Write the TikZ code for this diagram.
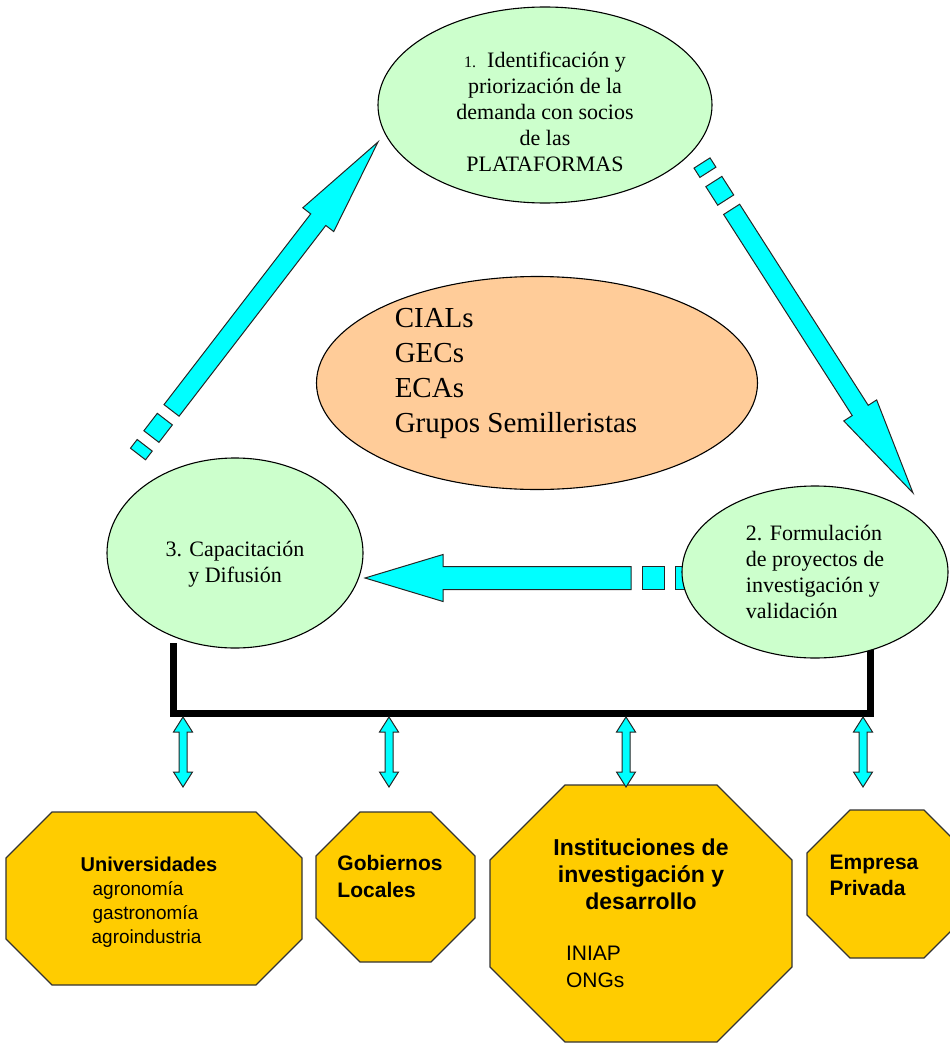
\documentclass[tikz,border=0pt]{standalone}
\usepackage{fontspec}
\setmainfont{Liberation Serif}
\newfontfamily\arialfont{Liberation Sans}
\usetikzlibrary{shapes.geometric,calc}

\definecolor{palegreen}{RGB}{204,255,204}
\definecolor{peach}{RGB}{255,204,153}
\definecolor{gold}{RGB}{255,204,0}
\definecolor{aqua}{RGB}{0,255,255}

\tikzset{
  phase/.style={ellipse, draw, line width=1.1pt, fill=palegreen, inner sep=0pt,
    font=\fontsize{22}{26}\selectfont},
  core/.style={ellipse, draw, line width=1.1pt, fill=peach, inner sep=0pt,
    font=\fontsize{29}{35}\selectfont, align=left},
  oct/.style={draw=black!80, line width=1.3pt, fill=gold, line join=miter},
  actor/.style={inner sep=0pt},
  blockarrow/.style={fill=aqua, draw=black!85, line width=1pt, line join=miter},
  bracket/.style={line width=7pt, line join=miter}
}

% striped block arrow: tail, tip, half shaft, half head, head length
\newcommand\stripedarrow[5]{%
  \draw[blockarrow] ($(#1)!#3!90:(#2)$) -- ($(#1)!#3!-90:(#2)$)
    -- ($(#1)!11pt!(#2)!#3!-90:(#2)$) -- ($(#1)!11pt!(#2)!#3!90:(#2)$) -- cycle;
  \draw[blockarrow] ($(#1)!22pt!(#2)!#3!90:(#2)$) -- ($(#1)!22pt!(#2)!#3!-90:(#2)$)
    -- ($(#1)!44pt!(#2)!#3!-90:(#2)$) -- ($(#1)!44pt!(#2)!#3!90:(#2)$) -- cycle;
  \draw[blockarrow] ($(#1)!55pt!(#2)!#3!90:(#2)$)
    -- ($(#2)!#5!(#1)!#3!-90:(#1)$) -- ($(#2)!#5!(#1)!#4!-90:(#1)$)
    -- (#2)
    -- ($(#2)!#5!(#1)!#4!90:(#1)$) -- ($(#2)!#5!(#1)!#3!90:(#1)$)
    -- ($(#1)!55pt!(#2)!#3!-90:(#2)$) -- cycle;
}

% two-headed block arrow: first end, second end
\newcommand\dblarrow[2]{%
  \draw[blockarrow] (#1)
    -- ($(#1)!15pt!(#2)!9.5pt!90:(#2)$) -- ($(#1)!15pt!(#2)!4pt!90:(#2)$)
    -- ($(#2)!15pt!(#1)!4pt!-90:(#1)$) -- ($(#2)!15pt!(#1)!9.5pt!-90:(#1)$)
    -- (#2)
    -- ($(#2)!15pt!(#1)!9.5pt!90:(#1)$) -- ($(#2)!15pt!(#1)!4pt!90:(#1)$)
    -- ($(#1)!15pt!(#2)!4pt!-90:(#2)$) -- ($(#1)!15pt!(#2)!9.5pt!-90:(#2)$)
    -- cycle;
}

% octagon: centre x, centre y, half width, half height, corner cut
\newcommand\octagon[5]{%
  \draw[oct] ({#1-#3+#5},{#2-#4}) -- ({#1+#3-#5},{#2-#4}) -- ({#1+#3},{#2-#4+#5})
    -- ({#1+#3},{#2+#4-#5}) -- ({#1+#3-#5},{#2+#4}) -- ({#1-#3+#5},{#2+#4})
    -- ({#1-#3},{#2+#4-#5}) -- ({#1-#3},{#2-#4+#5}) -- cycle;
}

\begin{document}
\begin{tikzpicture}[x=1pt, y=-1pt]
\useasboundingbox (0,0) rectangle (950,1044);

% ends of the cycle arrows
\coordinate (up tail) at (138,454);
\coordinate (up tip) at (378,142);
\coordinate (down tail) at (702,163);
\coordinate (down tip) at (913,493);
\coordinate (back tail) at (686,578);
\coordinate (back tip) at (365,578);

\stripedarrow{up tail}{up tip}{9.5pt}{19.5pt}{98pt}
\stripedarrow{down tail}{down tip}{9.5pt}{19.5pt}{98pt}
\stripedarrow{back tail}{back tip}{11.5pt}{23.5pt}{78pt}

% bracket under the cycle
\coordinate (bk left) at (173.5,643);
\coordinate (bk right) at (870,643);
\coordinate (bar) at (0,713.5);
\draw[bracket] (bk left) -- (bk left |- bar) -- (bk right |- bar) -- (bk right);

% cycle
\node[phase, minimum width=334pt, minimum height=196pt, align=center] (e1) at (545,105)
  {\rule{0pt}{30pt}{\fontsize{16}{26}\selectfont 1.}\ \ Identificación y\\priorización de la\\demanda con socios\\de las\\PLATAFORMAS};
\node[phase, minimum width=266pt, minimum height=172pt, align=left] (e2) at (815,572)
  {2. Formulación\\de proyectos de\hspace*{16pt}\\investigación y\\validación};
\node[phase, minimum width=256pt, minimum height=190pt, align=center] (e3) at (235,553)
  {\rule{0pt}{37pt}3. Capacitación\\y Difusión};
\node[core, minimum width=441pt, minimum height=213pt] (grp) at (537,383)
  {CIALs\\GECs\\ECAs\\Grupos Semilleristas\hspace*{42pt}\rule[-25pt]{0pt}{1pt}};

% actors
\octagon{154}{898.5}{148}{86.5}{46}
\octagon{395.5}{887}{79.5}{75}{44}
\octagon{641}{913.5}{151}{128.5}{75}
\octagon{887}{884}{80}{74}{43}

\node[actor, align=left, font=\arialfont\fontsize{19}{24}\selectfont] (uni) at (154,902)
  {{\fontsize{20}{24}\selectfont\bfseries Universidades}\hspace*{10pt}\\
   \hspace*{12pt}agronomía\\\hspace*{12pt}gastronomía\\\hspace*{11pt}agroindustria};
\node[actor, align=left, font=\arialfont\bfseries\fontsize{21}{27}\selectfont] (gob) at (395.5,887)
  {Gobiernos\hspace*{11pt}\\Locales\rule[-21pt]{0pt}{1pt}};
\node[actor, align=center, font=\arialfont\bfseries\fontsize{23}{27}\selectfont] (inst) at (641,913.5)
  {Instituciones de\\investigación y\\desarrollo\\[24pt]
   \mdseries\fontsize{21}{28}\selectfont\makebox[180pt][l]{\hspace*{15pt}INIAP}\\
   \mdseries\fontsize{21}{28}\selectfont\makebox[180pt][l]{\hspace*{15pt}ONGs}};
\node[actor, align=left, font=\arialfont\bfseries\fontsize{21}{26}\selectfont] (emp) at (887,884)
  {Empresa\hspace*{26pt}\\Privada\rule[-18pt]{0pt}{1pt}};

% links from the bracket to the actors
\foreach \px/\nm in {183/a, 389/b, 626/c, 863/d} {
  \coordinate (\nm top) at (\px,717);
  \coordinate (\nm bot) at (\px,787);
  \dblarrow{\nm top}{\nm bot}
}

\end{tikzpicture}
\end{document}
